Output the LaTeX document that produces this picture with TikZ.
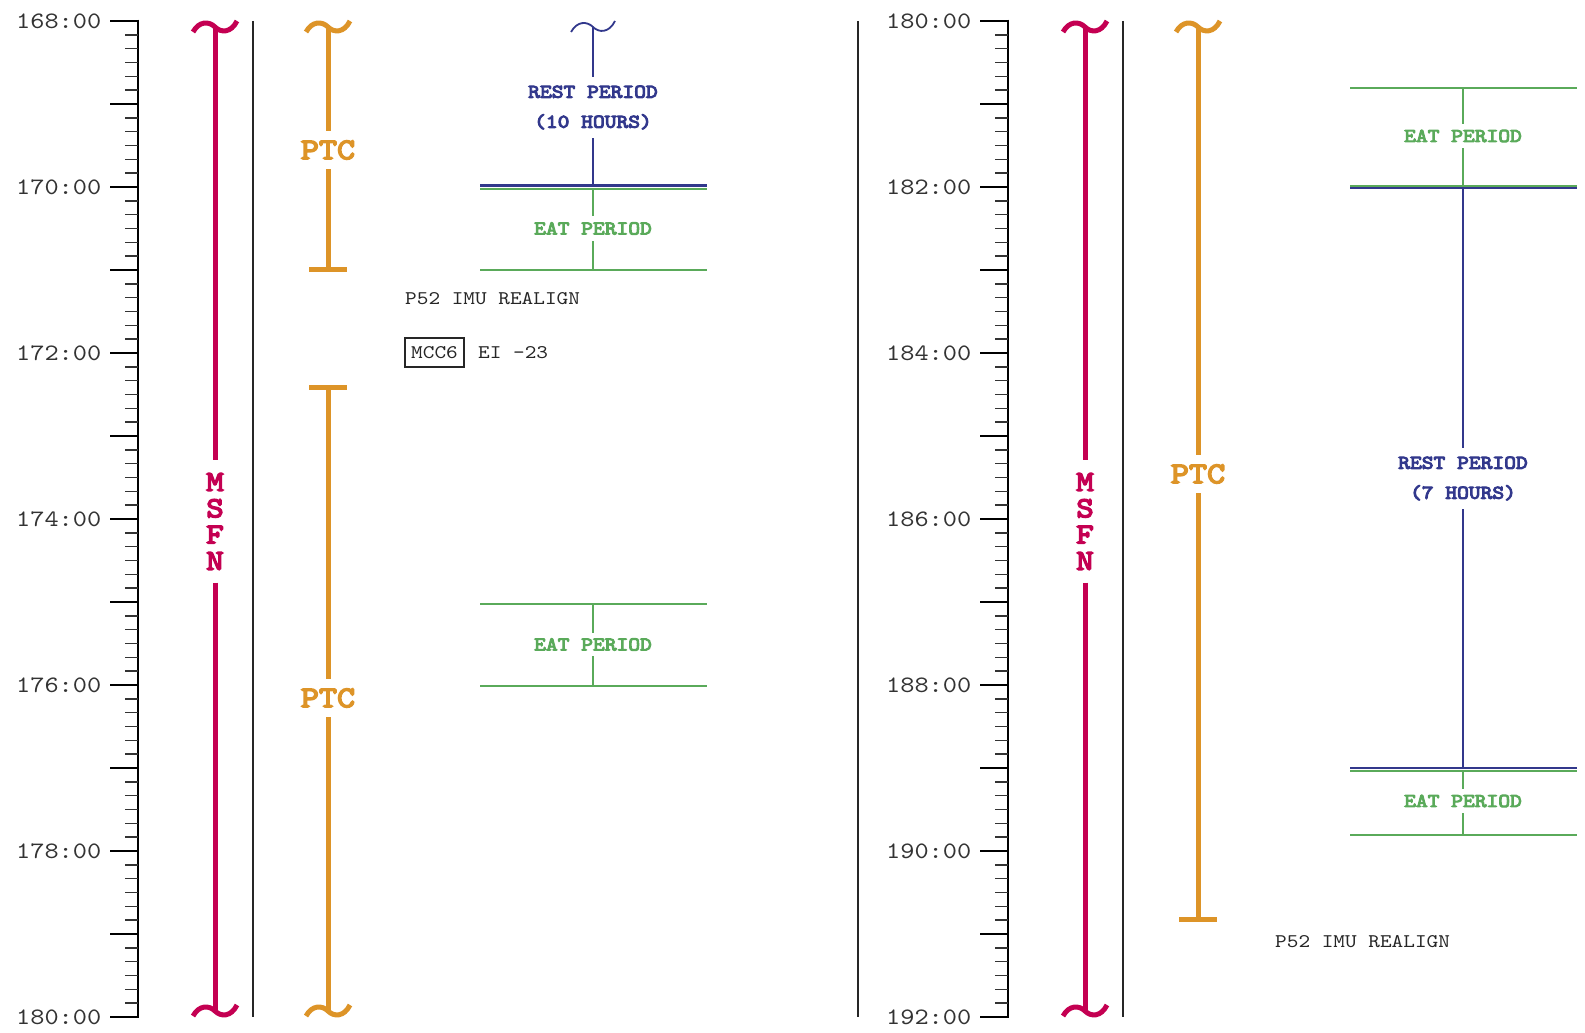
\documentclass[tikz,border=0pt]{standalone}
\usepackage{fontspec}
\newfontfamily\mono{lmmono10-regular.otf}[FakeStretch=1.15]
\newfontfamily\monobf{lmmono10-regular.otf}[FakeStretch=1.15, FakeBold=5]
\definecolor{msfn}{RGB}{196,0,82}
\definecolor{ptc}{RGB}{221,148,40}
\definecolor{rest}{RGB}{50,56,140}
\definecolor{eat}{RGB}{90,170,90}
\tikzset{
  axisline/.style={line width=2.8pt, black},
  majortick/.style={line width=2.8pt, black},
  minortick/.style={line width=1.5pt, black!80},
  thinline/.style={line width=1.4pt, black!85},
  axislab/.style={font={\mono\fontsize{23.5}{28}\selectfont}, anchor=east, inner sep=0pt, text=black!80},
  smalltxt/.style={font={\mono\fontsize{19.3}{30}\selectfont}, inner sep=0pt, text=black!85},
  msfnbar/.style={draw=msfn, line width=5pt},
  ptcbar/.style={draw=ptc, line width=5pt},
  restbar/.style={draw=rest, line width=1.8pt},
  eatbar/.style={draw=eat, line width=1.8pt},
  restedge/.style={draw=rest, line width=2.2pt},
  eatedge/.style={draw=eat, line width=2pt},
  msfnlab/.style={font={\monobf\fontsize{29}{26.3}\selectfont}, text=msfn, align=center, inner sep=0pt, minimum height=122pt},
  ptclab/.style={font={\monobf\fontsize{30}{30}\selectfont}, text=ptc, inner sep=0pt, minimum height=38pt},
  restlab/.style={font={\monobf\fontsize{19.5}{30}\selectfont}, text=rest, align=center, inner sep=0pt, minimum height=61pt},
  eatlab/.style={font={\monobf\fontsize{19.5}{24}\selectfont}, text=eat, inner sep=0pt, minimum height=24pt},
  pics/tildeshape/.style={code={\draw[#1] (-22,11) .. controls (-16,0) and (-6,0) .. (0,6) .. controls (6,12) and (16,12) .. (22,0);}},
}
\begin{document}
\begin{tikzpicture}[x=1pt,y=-1pt]
\useasboundingbox (0,0) rectangle (1585,1033);

% ================= LEFT PANEL =================
\draw[axisline] (138,19.6) -- (138,1018.4);
\foreach \i in {0,...,72} \draw[minortick] (125,{21+\i*83/6}) -- (138,{21+\i*83/6});
\foreach \i in {0,...,12} \draw[majortick] (110,{21+\i*83}) -- (138,{21+\i*83});
\foreach \h [count=\k from 0] in {168,170,...,180} \node[axislab] (labL\k) at (101.5,{21+\k*166}) {\h:00};

\draw[thinline] (253,21) -- (253,1017);

% MSFN
\pic at (215,21) {tildeshape=msfnbar};
\pic at (215,1005) {tildeshape=msfnbar};
\coordinate (msfnLtop) at (215,27);
\coordinate (msfnLbot) at (215,1011);
\node[msfnlab] (msfnL) at (215,521.5) {M\\S\\F\\N};
\draw[msfnbar] (msfnLtop) -- (msfnL);
\draw[msfnbar] (msfnL) -- (msfnLbot);

% PTC 1
\pic at (328,21) {tildeshape=ptcbar};
\coordinate (ptcAtop) at (328,27);
\coordinate (ptcAend) at (328,269);
\coordinate (ptcAendl) at (309,269);
\coordinate (ptcAendr) at (347,269);
\node[ptclab] (ptcA) at (328,150) {PTC};
\draw[ptcbar] (ptcAtop) -- (ptcA);
\draw[ptcbar] (ptcA) -- (ptcAend);
\draw[ptcbar] (ptcAendl) -- (ptcAendr);

% PTC 2
\coordinate (ptcBtop) at (328,387);
\coordinate (ptcBtopl) at (309,387);
\coordinate (ptcBtopr) at (347,387);
\pic at (328,1005) {tildeshape=ptcbar};
\coordinate (ptcBbot) at (328,1011);
\node[ptclab] (ptcB) at (328,698) {PTC};
\draw[ptcbar] (ptcBtopl) -- (ptcBtopr);
\draw[ptcbar] (ptcBtop) -- (ptcB);
\draw[ptcbar] (ptcB) -- (ptcBbot);

% REST PERIOD (10 HOURS)
\pic at (593,21) {tildeshape=restbar};
\coordinate (restLtop) at (593,27);
\coordinate (restLend) at (593,185.5);
\coordinate (restLendl) at (480,185.5);
\coordinate (restLendr) at (707,185.5);
\node[restlab] (restL) at (593,107.5) {REST PERIOD\\(10 HOURS)};
\draw[restbar] (restLtop) -- (restL);
\draw[restbar] (restL) -- (restLend);
\draw[restedge] (restLendl) -- (restLendr);

% EAT PERIOD 1 (left)
\coordinate (eatAtop) at (593,188.5);
\coordinate (eatAtopl) at (480,188.5);
\coordinate (eatAtopr) at (707,188.5);
\coordinate (eatAbot) at (593,270);
\coordinate (eatAbotl) at (480,270);
\coordinate (eatAbotr) at (707,270);
\node[eatlab, minimum height=25pt] (eatA) at (593,228.5) {EAT PERIOD};
\draw[eatedge] (eatAtopl) -- (eatAtopr);
\draw[eatedge] (eatAbotl) -- (eatAbotr);
\draw[eatbar] (eatAtop) -- (eatA);
\draw[eatbar] (eatA) -- (eatAbot);

% events
\node[smalltxt, anchor=west] (p52L) at (405,299) {P52 IMU REALIGN};
\node[smalltxt, draw=black!85, line width=1.3pt, minimum width=59pt, minimum height=29pt] (mcc) at (434.5,352.5) {MCC6};
\node[smalltxt, anchor=west] (ei) at (478,353) {EI -23};

% EAT PERIOD 2 (left)
\coordinate (eatBtop) at (593,604);
\coordinate (eatBtopl) at (480,604);
\coordinate (eatBtopr) at (707,604);
\coordinate (eatBbot) at (593,686);
\coordinate (eatBbotl) at (480,686);
\coordinate (eatBbotr) at (707,686);
\node[eatlab, minimum height=23pt] (eatB) at (593,644.5) {EAT PERIOD};
\draw[eatedge] (eatBtopl) -- (eatBtopr);
\draw[eatedge] (eatBbotl) -- (eatBbotr);
\draw[eatbar] (eatBtop) -- (eatB);
\draw[eatbar] (eatB) -- (eatBbot);

% ================= RIGHT PANEL =================
\draw[thinline] (858,21) -- (858,1017);
\draw[axisline] (1008,19.6) -- (1008,1018.4);
\foreach \i in {0,...,72} \draw[minortick] (995,{21+\i*83/6}) -- (1008,{21+\i*83/6});
\foreach \i in {0,...,12} \draw[majortick] (980,{21+\i*83}) -- (1008,{21+\i*83});
\foreach \h [count=\k from 0] in {180,182,...,192} \node[axislab] (labR\k) at (971.5,{21+\k*166}) {\h:00};

\draw[thinline] (1123,21) -- (1123,1017);

% MSFN
\pic at (1085,21) {tildeshape=msfnbar};
\pic at (1085,1005) {tildeshape=msfnbar};
\coordinate (msfnRtop) at (1085,27);
\coordinate (msfnRbot) at (1085,1011);
\node[msfnlab] (msfnR) at (1085,521.5) {M\\S\\F\\N};
\draw[msfnbar] (msfnRtop) -- (msfnR);
\draw[msfnbar] (msfnR) -- (msfnRbot);

% PTC
\pic at (1198,21) {tildeshape=ptcbar};
\coordinate (ptcCtop) at (1198,27);
\coordinate (ptcCend) at (1198,919);
\coordinate (ptcCendl) at (1179,919);
\coordinate (ptcCendr) at (1217,919);
\node[ptclab] (ptcC) at (1198,474) {PTC};
\draw[ptcbar] (ptcCtop) -- (ptcC);
\draw[ptcbar] (ptcC) -- (ptcCend);
\draw[ptcbar] (ptcCendl) -- (ptcCendr);

% EAT PERIOD (right, top)
\coordinate (eatCtop) at (1463,88);
\coordinate (eatCtopl) at (1350,88);
\coordinate (eatCtopr) at (1577,88);
\coordinate (eatCbot) at (1463,185.7);
\coordinate (eatCbotl) at (1350,185.7);
\coordinate (eatCbotr) at (1577,185.7);
\node[eatlab] (eatC) at (1463,136) {EAT PERIOD};
\draw[eatedge] (eatCtopl) -- (eatCtopr);
\draw[eatbar] (eatCtop) -- (eatC);
\draw[eatbar] (eatC) -- (eatCbot);

% REST PERIOD (7 HOURS)
\coordinate (restRtop) at (1463,188);
\coordinate (restRtopl) at (1350,188);
\coordinate (restRtopr) at (1577,188);
\coordinate (restRbot) at (1463,768);
\coordinate (restRbotl) at (1350,768);
\coordinate (restRbotr) at (1577,768);
\node[restlab] (restR) at (1463,478.5) {REST PERIOD\\(7 HOURS)};
\draw[restedge] (restRtopl) -- (restRtopr);
\draw[eatedge] (eatCbotl) -- (eatCbotr);
\draw[restbar] (restRtop) -- (restR);
\draw[restbar] (restR) -- (restRbot);
\draw[restedge] (restRbotl) -- (restRbotr);

% EAT PERIOD (right, bottom)
\coordinate (eatDtop) at (1463,770.5);
\coordinate (eatDtopl) at (1350,770.5);
\coordinate (eatDtopr) at (1577,770.5);
\coordinate (eatDbot) at (1463,835);
\coordinate (eatDbotl) at (1350,835);
\coordinate (eatDbotr) at (1577,835);
\node[eatlab] (eatD) at (1463,801) {EAT PERIOD};
\draw[eatedge] (eatDtopl) -- (eatDtopr);
\draw[eatedge] (eatDbotl) -- (eatDbotr);
\draw[eatbar] (eatDtop) -- (eatD);
\draw[eatbar] (eatD) -- (eatDbot);

\node[smalltxt, anchor=west] (p52R) at (1275,942) {P52 IMU REALIGN};
\end{tikzpicture}
\end{document}
